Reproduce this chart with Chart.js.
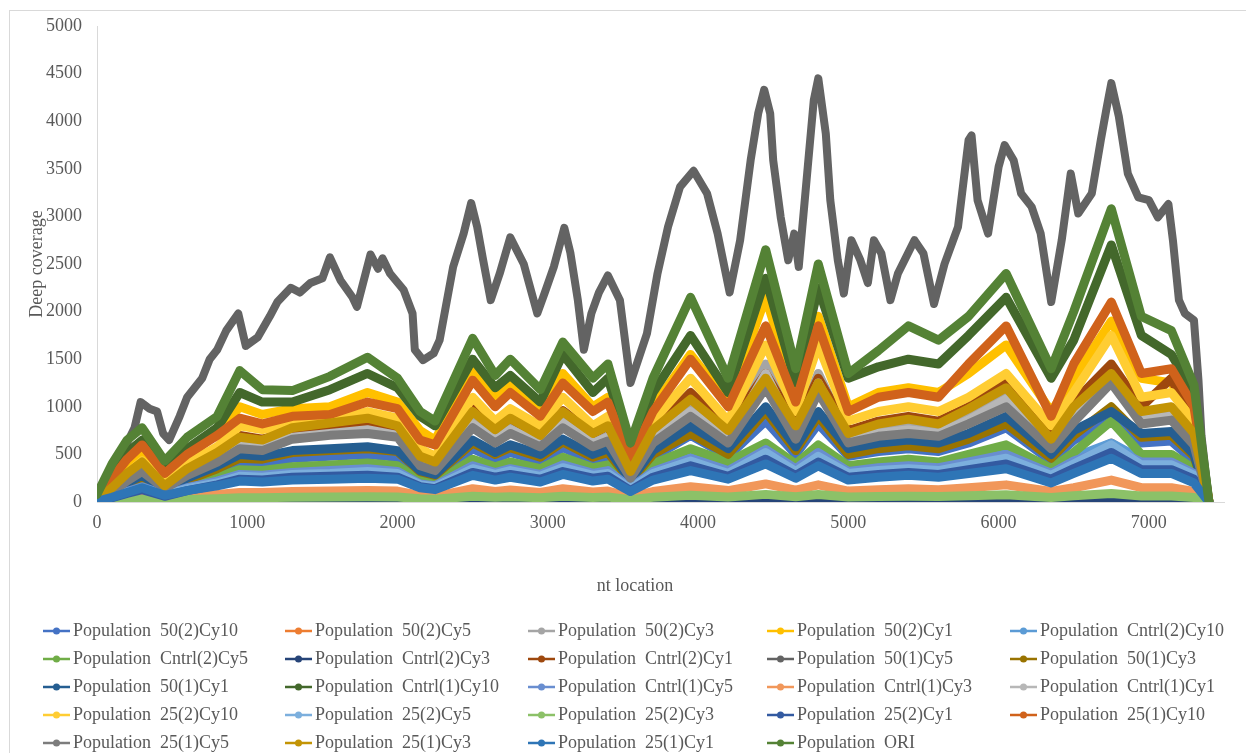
<!DOCTYPE html>
<html lang="en">
<head>
<meta charset="UTF-8">
<title>Deep coverage</title>
<script src="https://cdn.jsdelivr.net/npm/chart.js"></script>
<style>
  html, body { margin: 0; padding: 0; background: #fff; overflow: hidden; }
  canvas { display: block; }
</style>
</head>
<body>
<canvas id="grafica" width="1246" height="753"></canvas>
<script>
const ntKnots = [0,100,200,300,450,600,800,950,1100,1300,1550,1800,2000,2150,2250,2500,2650,2750,2950,3100,3300,3400,3550,3700,3950,4200,4450,4650,4800,5000,5200,5400,5600,5800,6050,6350,6500,6750,6950,7150,7300,7400];
// the top gray series has more detail, so it has its own x positions
const ntGray = [0,100,200,250,290,350,400,440,480,550,600,700,750,800,860,940,990,1070,1150,1200,1290,1350,1420,1500,1550,1620,1700,1730,1820,1870,1900,1950,2040,2100,2115,2170,2240,2280,2370,2440,2490,2530,2570,2620,2680,2750,2840,2930,2980,3040,3110,3150,3200,3240,3290,3340,3400,3480,3550,3660,3730,3800,3880,3970,4060,4130,4210,4280,4350,4400,4440,4480,4500,4550,4600,4640,4670,4730,4770,4800,4850,4880,4930,4970,5020,5080,5130,5170,5220,5280,5330,5440,5500,5570,5640,5730,5800,5820,5860,5930,6000,6040,6100,6150,6220,6280,6350,6420,6480,6530,6620,6680,6720,6750,6800,6860,6930,7000,7060,7130,7160,7200,7240,7300,7330,7350,7400];

const p50_2Cy10   = [10,80,170,240,110,210,320,420,410,460,480,500,470,280,250,560,450,520,430,570,430,480,200,470,700,480,850,500,820,480,530,560,530,620,780,430,650,850,620,640,430,0];
const p50_2Cy5    = [8,60,120,170,80,150,220,290,280,310,330,340,320,190,170,380,310,350,290,390,300,330,150,320,480,330,560,350,520,330,360,390,360,420,520,300,440,620,420,420,300,0];
const p50_2Cy3    = [20,130,260,370,170,320,480,640,620,720,780,800,740,430,380,870,700,800,650,880,650,720,290,700,1000,700,1450,750,1350,700,780,820,780,920,1150,640,950,1420,920,950,680,0];
const p50_2Cy1    = [30,200,400,520,260,480,720,1000,920,980,1000,1150,1050,750,650,1400,1100,1250,1000,1350,1000,1100,450,1000,1550,1050,2150,1150,1950,1000,1150,1200,1150,1350,1650,950,1300,1900,1300,1250,950,0];
const cntrl2Cy10  = [8,60,120,180,80,160,240,320,310,340,360,380,350,210,190,420,340,390,320,430,330,360,160,350,500,360,600,380,580,350,390,410,390,450,550,320,470,620,450,460,320,0];
const cntrl2Cy5   = [8,70,140,200,90,180,260,340,330,370,390,410,380,230,200,450,370,420,350,470,360,390,170,400,560,420,620,400,600,380,420,450,420,500,600,350,520,850,500,500,350,0];
const cntrl2Cy3   = [0,3,5,8,4,6,8,10,10,10,10,12,11,7,6,12,10,11,9,12,10,11,5,10,14,10,16,11,15,10,11,12,11,12,14,9,12,18,12,12,9,0];
const cntrl2Cy1   = [20,140,280,380,180,360,520,700,660,740,760,850,780,480,420,980,780,880,700,960,720,800,320,760,1150,780,1350,820,1300,750,850,900,850,1000,1250,700,1050,1450,1000,1300,800,0];
const p50_1Cy5    = [50,330,620,780,1050,980,950,720,650,900,1100,1300,1500,1600,1800,1980,1640,1730,1950,2100,2250,2200,2300,2350,2570,2330,2150,2050,2600,2450,2560,2400,2230,1980,1600,1490,1560,1700,2470,2820,3140,2890,2540,2120,2400,2780,2500,1980,2200,2470,2880,2620,2120,1600,1980,2200,2380,2120,1250,1770,2400,2890,3310,3480,3240,2820,2200,2750,3590,4080,4330,4080,3590,2990,2540,2820,2470,3520,4220,4450,3870,3170,2540,2190,2750,2540,2300,2750,2610,2120,2400,2750,2610,2080,2500,2890,3800,3850,3170,2820,3520,3750,3590,3240,3100,2820,2100,2750,3450,3030,3240,3800,4150,4400,4050,3450,3200,3170,2990,3130,2750,2120,1980,1910,1280,700,0];
const p50_1Cy3    = [10,90,180,260,120,230,350,460,450,520,540,560,530,320,280,620,500,570,470,630,470,520,220,500,720,500,950,540,900,500,560,590,560,660,820,460,700,1000,680,700,480,0];
const p50_1Cy1    = [10,100,200,280,130,250,380,500,480,540,560,580,540,330,290,650,520,600,500,660,500,560,230,540,800,560,1000,580,950,560,620,650,620,720,900,500,750,950,720,740,500,0];
const cntrl1Cy10  = [60,300,520,650,380,560,780,1150,1050,1050,1180,1350,1200,900,800,1500,1200,1330,1050,1550,1150,1300,550,1150,1750,1150,2350,1250,2250,1300,1420,1500,1450,1750,2150,1300,1700,2700,1750,1550,1150,0];
const cntrl1Cy5   = [8,55,110,160,75,150,220,290,280,310,330,350,320,190,170,380,310,350,290,390,300,330,150,320,460,330,550,350,520,320,360,380,360,420,500,300,430,570,420,420,300,0];
const cntrl1Cy3   = [3,20,40,60,30,50,80,100,100,110,115,120,115,70,60,140,110,125,100,140,105,115,55,110,160,120,190,125,180,115,130,140,130,150,180,110,150,230,150,150,110,0];
const cntrl1Cy1   = [15,120,240,340,150,300,450,600,580,680,720,760,700,400,350,820,650,760,620,830,620,680,270,660,950,660,1350,700,1250,650,720,760,720,860,1080,600,880,1300,860,900,640,0];
const p25_2Cy10   = [20,150,300,430,200,400,580,800,760,820,850,950,880,560,480,1100,850,980,800,1100,800,900,380,850,1300,850,1650,950,1650,850,950,1000,950,1100,1350,800,1150,1750,1100,1150,850,0];
const p25_2Cy5    = [6,50,100,150,70,140,200,270,260,290,300,320,300,180,160,350,290,330,270,360,280,300,140,300,430,300,520,320,480,300,330,350,330,390,460,280,400,600,390,390,280,0];
const p25_2Cy3    = [2,10,20,30,15,25,35,45,45,50,52,55,52,35,30,60,50,55,45,60,48,52,25,50,70,52,80,55,78,52,58,60,58,65,75,48,65,90,62,62,48,0];
const p25_2Cy1    = [6,45,90,130,60,120,180,240,230,260,270,280,260,160,140,310,260,290,240,320,250,270,120,260,380,270,450,280,420,260,290,310,290,340,400,240,350,520,340,340,240,0];
const p25_1Cy10   = [40,250,450,600,300,500,700,880,820,900,920,1050,980,650,600,1280,1000,1150,900,1250,950,1050,450,950,1500,1000,1850,1050,1850,950,1100,1150,1100,1450,1850,900,1450,2100,1350,1400,1000,0];
const p25_1Cy5    = [15,110,220,320,140,280,420,560,540,660,700,720,680,380,330,780,620,720,580,780,580,640,250,620,900,620,1200,660,1150,620,690,720,690,820,1000,560,840,1250,820,860,600,0];
const p25_1Cy3    = [20,150,300,420,170,350,520,680,650,780,830,880,800,480,420,950,760,880,700,950,720,800,320,760,1080,750,1300,800,1250,720,820,870,820,980,1200,660,1000,1350,950,1000,720,0];
const p25_1Cy1    = [5,50,100,150,70,120,170,220,210,230,240,250,240,150,130,280,230,260,210,290,220,240,110,230,330,240,400,250,380,230,260,280,260,300,350,200,300,460,300,300,200,0];
const ori         = [80,400,650,780,430,680,900,1380,1180,1170,1320,1520,1300,950,850,1720,1330,1500,1180,1680,1300,1450,620,1300,2150,1300,2650,1400,2500,1350,1590,1850,1700,1950,2400,1400,2000,3080,1950,1800,1230,0];

const seriesNames = [
  'Population  50(2)Cy10', 'Population  50(2)Cy5', 'Population  50(2)Cy3', 'Population  50(2)Cy1', 'Population  Cntrl(2)Cy10',
  'Population  Cntrl(2)Cy5', 'Population  Cntrl(2)Cy3', 'Population  Cntrl(2)Cy1', 'Population  50(1)Cy5', 'Population  50(1)Cy3',
  'Population  50(1)Cy1', 'Population  Cntrl(1)Cy10', 'Population  Cntrl(1)Cy5', 'Population  Cntrl(1)Cy3', 'Population  Cntrl(1)Cy1',
  'Population  25(2)Cy10', 'Population  25(2)Cy5', 'Population  25(2)Cy3', 'Population  25(2)Cy1', 'Population  25(1)Cy10',
  'Population  25(1)Cy5', 'Population  25(1)Cy3', 'Population  25(1)Cy1', 'Population  ORI'
];
const seriesValues = [
  p50_2Cy10, p50_2Cy5, p50_2Cy3, p50_2Cy1, cntrl2Cy10,
  cntrl2Cy5, cntrl2Cy3, cntrl2Cy1, p50_1Cy5, p50_1Cy3,
  p50_1Cy1, cntrl1Cy10, cntrl1Cy5, cntrl1Cy3, cntrl1Cy1,
  p25_2Cy10, p25_2Cy5, p25_2Cy3, p25_2Cy1, p25_1Cy10,
  p25_1Cy5, p25_1Cy3, p25_1Cy1, ori
];
const seriesColors = [
  '#4472C4', '#ED7D31', '#A5A5A5', '#FFC000', '#5B9BD5',
  '#70AD47', '#264478', '#9E480E', '#636363', '#997300',
  '#255E91', '#43682B', '#698ED0', '#F1975A', '#B7B7B7',
  '#FFCD33', '#7CAFDD', '#8CC168', '#335AA1', '#D0621B',
  '#7C7C7C', '#C39405', '#2E75B6', '#548235'
];
const xTicks = [0, 1000, 2000, 3000, 4000, 5000, 6000, 7000];

const FONT = '"Liberation Serif", "Times New Roman", serif';
const TXT = '#595959';

const datasets = seriesValues.map((vals, i) => {
  const xs = vals === p50_1Cy5 ? ntGray : ntKnots;
  return {
    label: seriesNames[i],
    data: vals.map((v, j) => ({ x: xs[j], y: v })),
    borderColor: seriesColors[i],
    backgroundColor: seriesColors[i],
    borderWidth: vals === p50_1Cy5 ? 8 : 9,
    borderJoinStyle: 'round',
    borderCapStyle: 'round',
    pointRadius: 0,
    tension: 0,
    order: seriesValues.length - i   // later series on top, like Excel
  };
});

// background, frame, axis titles and the grid legend
const extras = {
  id: 'extras',
  beforeDraw(chart) {
    const ctx = chart.ctx;
    ctx.save();
    ctx.fillStyle = '#fff';
    ctx.fillRect(0, 0, chart.width, chart.height);
    ctx.strokeStyle = '#d9d9d9';
    ctx.lineWidth = 1;
    ctx.strokeRect(9.5, 10.5, 1300, 800);
    ctx.restore();
  },
  afterDraw(chart) {
    const ctx = chart.ctx;
    ctx.save();
    ctx.fillStyle = TXT;
    ctx.font = '18px ' + FONT;
    ctx.textAlign = 'center';
    ctx.textBaseline = 'middle';
    ctx.fillText('nt location', 635, 586);
    ctx.translate(37, 264);
    ctx.rotate(-Math.PI / 2);
    ctx.fillText('Deep coverage', 0, 0);
    ctx.restore();

    const cols = [43, 285, 528, 767, 1010];
    const rows = [631, 659, 687, 715, 743];
    ctx.save();
    ctx.font = '18px ' + FONT;
    ctx.textBaseline = 'middle';
    ctx.textAlign = 'left';
    chart.data.datasets.forEach((ds, i) => {
      const x = cols[i % 5], y = rows[Math.floor(i / 5)];
      ctx.strokeStyle = ds.borderColor;
      ctx.lineWidth = 2.5;
      ctx.beginPath();
      ctx.moveTo(x, y);
      ctx.lineTo(x + 27, y);
      ctx.stroke();
      ctx.fillStyle = ds.borderColor;
      ctx.beginPath();
      ctx.arc(x + 13.5, y, 3.5, 0, Math.PI * 2);
      ctx.fill();
      ctx.fillStyle = TXT;
      ctx.fillText(ds.label, x + 30, y);
    });
    ctx.restore();
  }
};

new Chart(document.getElementById('grafica'), {
  type: 'line',
  data: { datasets },
  options: {
    responsive: false,
    animation: false,
    devicePixelRatio: 1,
    layout: { padding: { top: 26, right: 22, bottom: 221, left: 0 } },
    plugins: { legend: { display: false }, tooltip: { enabled: false } },
    scales: {
      x: {
        type: 'linear',
        min: 0,
        max: 7500,
        grid: { display: false, drawTicks: false },
        border: { display: true, color: '#d9d9d9' },
        ticks: { color: TXT, font: { family: FONT, size: 18 }, padding: 10, maxRotation: 0, callback: v => String(v) },
        afterBuildTicks: (scale) => { scale.ticks = xTicks.map(v => ({ value: v })); },
        afterFit: (scale) => { scale.height = 30; }
      },
      y: {
        min: 0,
        max: 5000,
        grid: { display: false, drawTicks: false },
        border: { display: true, color: '#d9d9d9' },
        ticks: { stepSize: 500, color: TXT, font: { family: FONT, size: 18 }, padding: 15, callback: v => String(v) },
        afterFit: (scale) => { scale.width = 97; }
      }
    }
  },
  plugins: [extras]
});
</script>
</body>
</html>
